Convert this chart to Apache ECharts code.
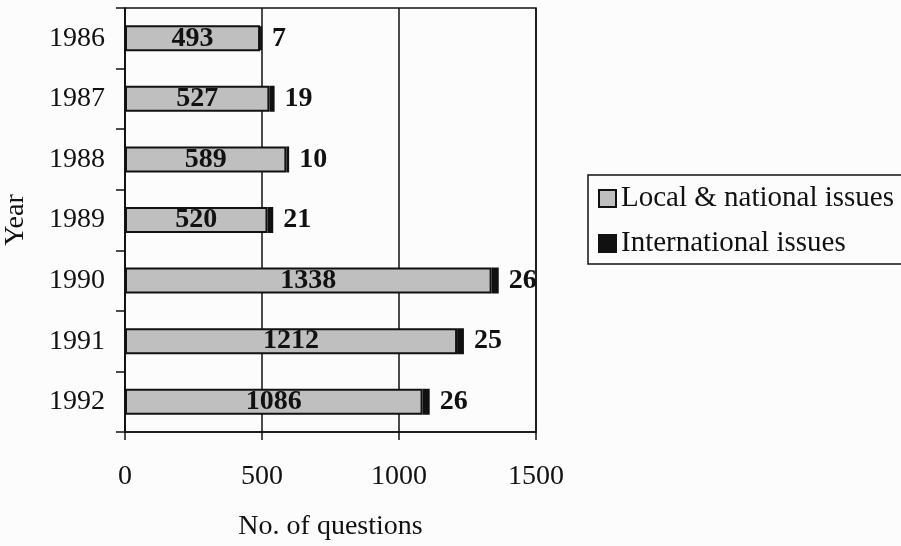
<!DOCTYPE html>
<html>
<head>
<meta charset="utf-8">
<title>Parliamentary questions by year</title>
<script src="https://cdn.jsdelivr.net/npm/echarts@6/dist/echarts.min.js"></script>
<style>
  html, body { margin: 0; padding: 0; background: #fcfcfc; }
  #chart { width: 901px; height: 546px; }
</style>
</head>
<body>
<div id="chart"></div>
<script>
// Years (top to bottom) and the number of questions asked on each kind of issue
const years = ['1986', '1987', '1988', '1989', '1990', '1991', '1992'];
const localNational = [493, 527, 589, 520, 1338, 1212, 1086];
const international = [7, 19, 10, 21, 26, 25, 26];
const xTicks = [0, 500, 1000, 1500];

const FONT = '"Liberation Serif", "Times New Roman", serif';
const INK = '#111';

const chart = echarts.init(document.getElementById('chart'), null, { renderer: 'canvas' });

chart.setOption({
  backgroundColor: '#fcfcfc',
  animation: false,
  textStyle: { fontFamily: FONT, color: INK },
  grid: {
    left: 125, right: 365, top: 8, bottom: 114,
    show: true, borderColor: INK, borderWidth: 1.5, backgroundColor: 'transparent'
  },
  legend: {
    orient: 'vertical',
    left: 588, top: 175,
    padding: [9, 24, 6, 10],
    itemGap: 16,
    itemWidth: 17, itemHeight: 17,
    icon: 'rect',
    borderColor: INK, borderWidth: 1.5,
    textStyle: { fontFamily: FONT, fontSize: 29, color: INK },
    data: ['Local & national issues', 'International issues']
  },
  xAxis: {
    type: 'value',
    min: xTicks[0], max: xTicks[xTicks.length - 1], interval: 500,
    name: 'No. of questions',
    nameLocation: 'middle', nameGap: 81,
    nameTextStyle: { fontFamily: FONT, fontSize: 28, color: INK },
    axisLine: { show: true, lineStyle: { color: INK, width: 1.5 } },
    axisTick: { show: true, inside: false, length: 8, lineStyle: { color: INK, width: 1.5 } },
    axisLabel: {
      margin: 31, fontFamily: FONT, fontSize: 28, color: INK,
      formatter: (v) => String(v)
    },
    splitLine: { show: true, lineStyle: { color: INK, width: 1.5 } }
  },
  yAxis: {
    type: 'category',
    data: years,
    inverse: true,
    name: 'Year',
    nameLocation: 'middle', nameGap: 95, nameRotate: 90,
    nameTextStyle: { fontFamily: FONT, fontSize: 28, color: INK },
    axisLine: { show: true, lineStyle: { color: INK, width: 1.5 } },
    axisTick: { show: true, inside: false, length: 9, lineStyle: { color: INK, width: 1.5 } },
    axisLabel: { margin: 20, fontFamily: FONT, fontSize: 28, color: INK },
    splitLine: { show: false }
  },
  series: [
    {
      name: 'Local & national issues',
      type: 'bar',
      stack: 'questions',
      barWidth: 26,
      data: localNational,
      itemStyle: { color: '#bfbfbf', borderColor: INK, borderWidth: 2 },
      label: {
        show: true, position: 'inside',
        fontFamily: FONT, fontSize: 28, fontWeight: 'bold', color: INK
      }
    },
    {
      name: 'International issues',
      type: 'bar',
      stack: 'questions',
      barWidth: 26,
      data: international,
      itemStyle: { color: INK, borderColor: INK, borderWidth: 2 },
      label: {
        show: true, position: 'right', distance: 10,
        fontFamily: FONT, fontSize: 28, fontWeight: 'bold', color: INK
      }
    }
  ]
});
</script>
</body>
</html>
